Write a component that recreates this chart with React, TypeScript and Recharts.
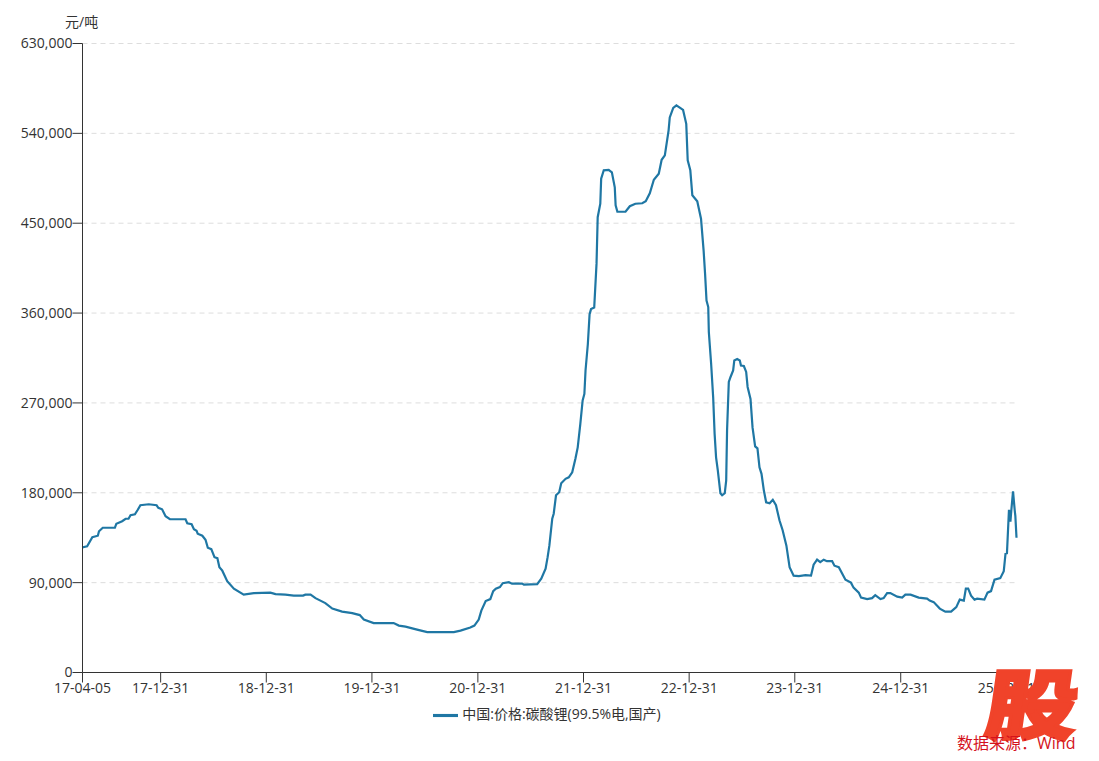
import { CartesianGrid, Legend, Line, LineChart, XAxis, YAxis } from "recharts";

const FONT = '"Open Sans", "Noto Sans CJK SC", sans-serif';
const INK = "#333333";
const LINE = "#1f77a4";
const SERIES = "中国:价格:碳酸锂(99.5%电,国产)";

// days since 17-04-05
const days = [
  0, 2, 16, 34, 53, 57, 70, 112, 117, 137, 149, 159, 166, 181, 191, 200, 229, 256, 262, 275, 287, 302, 356, 362, 377,
  385, 394, 398, 414, 425, 433, 445, 456, 466, 473, 483, 500, 523, 557, 592, 649, 667, 701, 730, 762, 770, 788, 805,
  839, 863, 897, 932, 958, 972, 1006, 1075, 1093, 1116, 1156, 1191, 1283, 1306, 1340, 1354, 1369, 1378, 1393, 1409,
  1419, 1428, 1442, 1452, 1473, 1484, 1519, 1525, 1571, 1585, 1600, 1607, 1613, 1623, 1628, 1636, 1647, 1654, 1669,
  1680, 1692, 1703, 1711, 1720, 1728, 1734, 1738, 1746, 1752, 1757, 1768, 1776, 1780, 1789, 1792, 1801, 1818, 1829,
  1839, 1842, 1848, 1876, 1891, 1910, 1934, 1946, 1960, 1974, 1991, 2001, 2012, 2025, 2029, 2041, 2052, 2075, 2086,
  2091, 2100, 2107, 2124, 2137, 2146, 2151, 2156, 2162, 2164, 2172, 2179, 2184, 2189, 2195, 2204, 2210, 2219, 2224,
  2227, 2233, 2239, 2248, 2252, 2262, 2271, 2275, 2285, 2293, 2298, 2308, 2315, 2324, 2332, 2339, 2346, 2354, 2362,
  2374, 2385, 2396, 2408, 2419, 2432, 2443, 2457, 2475, 2498, 2517, 2526, 2538, 2549, 2561, 2572, 2590, 2598, 2613,
  2636, 2655, 2664, 2682, 2690, 2711, 2728, 2739, 2757, 2768, 2780, 2791, 2815, 2832, 2843, 2861, 2889, 2918, 2927,
  2941, 2962, 2981, 3001, 3019, 3031, 3045, 3052, 3060, 3070, 3082, 3091, 3116, 3127, 3139, 3151, 3171, 3183, 3189,
  3194, 3201, 3206, 3209, 3215, 3221, 3223, 3227,
];

const prices = [
  125000, 125500, 126500, 135500, 137000, 141500, 145000, 145000, 149000, 151500, 154000, 154000, 157500, 158500,
  163000, 167500, 168500, 167500, 165000, 163500, 156500, 153500, 153500, 149500, 148500, 143500, 142000, 139000,
  137000, 133000, 125000, 123500, 115500, 114500, 105500, 102000, 91500, 84000, 78000, 79500, 80000, 78500, 78000,
  77000, 77000, 78000, 78000, 74500, 69500, 64000, 61000, 59500, 57500, 53000, 49500, 49500, 47000, 46000, 43000,
  40500, 40500, 42000, 45000, 47000, 53000, 62000, 71500, 73500, 81500, 84000, 85500, 89500, 90500, 89000, 89000,
  88000, 88500, 94000, 104000, 115500, 127000, 154000, 159000, 177500, 180500, 189500, 194000, 195500, 200500,
  214000, 225500, 249000, 272500, 279000, 302500, 329000, 359000, 364000, 365500, 409500, 456000, 469500, 494500,
  503000, 503500, 501000, 486000, 468000, 461500, 461500, 467000, 469500, 470000, 472000, 480000, 493500, 499500,
  513500, 518000, 543000, 556000, 565500, 568000, 563500, 549500, 513000, 503000, 478000, 472000, 454500, 422500,
  399500, 372500, 366000, 341000, 309000, 275500, 239000, 215500, 202500, 179500, 177500, 179500, 192500, 242500,
  291000, 296000, 302500, 312500, 314000, 312500, 307500, 307000, 301000, 286000, 274000, 245500, 226500, 224500,
  205500, 199000, 182500, 170500, 169500, 173000, 167500, 152500, 142500, 127000, 105500, 97000, 96500, 97500,
  97000, 108000, 113000, 110500, 113000, 111500, 111500, 107000, 105500, 93000, 90000, 85000, 80000, 75000, 73500,
  74500, 77500, 73500, 74500, 79500, 79500, 76000, 75000, 78000, 78000, 75000, 74000, 72000, 70500, 64000, 61000,
  61000, 65500, 73000, 72000, 84000, 84000, 77000, 73000, 74000, 73000, 80000, 81500, 93000, 94500, 101500, 119000,
  119500, 163000, 151000, 162000, 181500, 162000, 157000, 135000,
];

const xTickDays = [0, 270, 635, 1000, 1366, 1731, 2096, 2461, 2827, 3192];
const xTickLabels = [
  "17-04-05", "17-12-31", "18-12-31", "19-12-31", "20-12-31", "21-12-31", "22-12-31", "23-12-31", "24-12-31", "25-12-31",
];
const yTicks = [0, 90000, 180000, 270000, 360000, 450000, 540000, 630000];

const data = days.map((day, i) => ({ day, price: prices[i] }));
const tickStyle = { fontFamily: FONT, fontSize: 14, fill: INK };
const axisStyle = { stroke: INK };

export default function App() {
  return (
    <div style={{ position: "absolute", left: 0, top: 0, width: 1099, height: 761, background: "#fff" }}>
      <LineChart width={1099} height={761} data={data} margin={{ top: 43.5, right: 82.5, bottom: 33.5, left: 22.5 }}>
        <CartesianGrid vertical={false} stroke="#dddddd" strokeDasharray="5 4" />
        <XAxis
          dataKey="day"
          type="number"
          domain={[0, 3227]}
          ticks={xTickDays}
          interval={0}
          height={30}
          tickSize={10}
          tickMargin={1}
          tick={tickStyle}
          axisLine={axisStyle}
          tickLine={axisStyle}
          tickFormatter={(d: number) => xTickLabels[xTickDays.indexOf(d)]}
        />
        <YAxis
          type="number"
          domain={[0, 630000]}
          ticks={yTicks}
          interval={0}
          width={60}
          tickSize={10}
          tickMargin={0}
          tick={tickStyle}
          axisLine={axisStyle}
          tickLine={axisStyle}
          tickFormatter={(v: number) => v.toLocaleString("en-US")}
        />
        <Legend
          iconType="plainline"
          iconSize={25}
          wrapperStyle={{ left: 55 }}
          formatter={(v: string) => <span style={{ color: INK, fontFamily: FONT, fontSize: 14 }}>{v}</span>}
        />
        <Line
          type="linear"
          dataKey="price"
          name={SERIES}
          stroke={LINE}
          strokeWidth={2.2}
          dot={false}
          isAnimationActive={false}
        />
        <text x={65} y={27} fontFamily={FONT} fontSize={14} fill={INK}>
          元/吨
        </text>
      </LineChart>
      {/* watermark sits above the chart, it hides the last tick label in the original */}
      <svg width={1099} height={761} style={{ position: "absolute", left: 0, top: 0, pointerEvents: "none" }}>
        <text
          transform="translate(983 733) skewX(-8) scale(1.2 1)"
          fontFamily='"Noto Sans CJK SC"'
          fontWeight={900}
          fontSize={76}
          fill="#f0432a"
          stroke="#f0432a"
          strokeWidth={3}
        >
          股
        </text>
        <text x={957} y={749} fontFamily={FONT} fontSize={16} fill="#d4121c">
          数据来源：Wind
        </text>
      </svg>
    </div>
  );
}
